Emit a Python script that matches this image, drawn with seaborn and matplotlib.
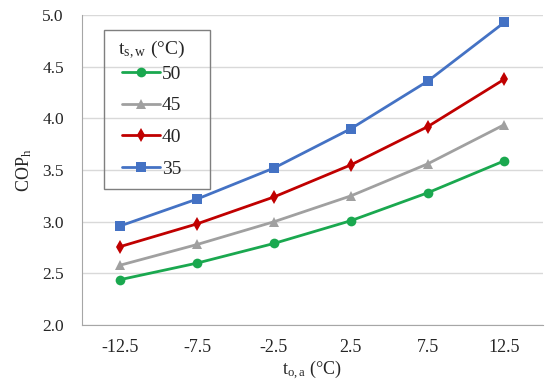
import numpy as np
import pandas as pd
import matplotlib
matplotlib.use("Agg")
import matplotlib.pyplot as plt
import seaborn as sns
from matplotlib.ticker import FixedLocator
from matplotlib.patches import Rectangle

# outdoor air temperature categories (°C)
temps = ["-12.5", "-7.5", "-2.5", "2.5", "7.5", "12.5"]

# COP_h for each supply water temperature
cop_50 = [2.44, 2.60, 2.79, 3.01, 3.28, 3.59]
cop_45 = [2.58, 2.78, 3.00, 3.25, 3.56, 3.94]
cop_40 = [2.76, 2.98, 3.24, 3.55, 3.92, 4.38]
cop_35 = [2.96, 3.22, 3.52, 3.90, 4.36, 4.93]

series = {"50": cop_50, "45": cop_45, "40": cop_40, "35": cop_35}
colors = {"50": "#1aa84f", "45": "#a0a0a0", "40": "#c00000", "35": "#4472c4"}
markers = {"50": "o", "45": "^", "40": "d", "35": "s"}

rows = []
for name, vals in series.items():
    for t, v in zip(temps, vals):
        rows.append({"t": t, "cop": v, "tsw": name})
df = pd.DataFrame(rows)

sns.set_style("white")
plt.rcParams["font.family"] = ["Liberation Serif", "DejaVu Serif"]
plt.rcParams["mathtext.fontset"] = "stix"

fig = plt.figure(figsize=(5.5, 3.87), dpi=100)
ax = fig.add_axes([0.149, 0.160, 0.838, 0.801])

sns.lineplot(data=df, x="t", y="cop", hue="tsw", style="tsw",
             hue_order=list(series), style_order=list(series),
             palette=colors, markers=markers, dashes=False,
             linewidth=2, markersize=7, markeredgewidth=0, ax=ax)

ax.set_xlim(-0.5, 5.5)
ax.set_ylim(2.0, 5.0)
ax.set_yticks(np.arange(2.0, 5.01, 0.5))
ax.set_yticklabels([f"{v:.1f}" for v in np.arange(2.0, 5.01, 0.5)])
ax.yaxis.grid(True, color="#d9d9d9", linewidth=1)
ax.set_axisbelow(True)

# ticks between categories, like a spreadsheet category axis
ax.xaxis.set_minor_locator(FixedLocator(np.arange(-0.5, 6, 1)))
ax.tick_params(axis="x", which="major", length=0, labelsize=13, pad=10)
ax.tick_params(axis="x", which="minor", length=5, color="#a6a6a6", width=1, direction="out")
ax.tick_params(axis="y", which="major", length=5, color="#a6a6a6", width=1,
               direction="out", labelsize=12.5, pad=8)

for s in ["left", "bottom"]:
    ax.spines[s].set_color("#a6a6a6")
for s in ["top", "right"]:
    ax.spines[s].set_visible(False)

ax.set_xlabel(r"t$_{\mathregular{o,a}}$ (°C)", fontsize=13, labelpad=2)
ax.set_ylabel(r"COP$_{\mathregular{h}}$", fontsize=13, labelpad=6)

leg = ax.legend(title=r"t$_{\mathregular{s,w}}$ (°C)", loc="upper left",
                bbox_to_anchor=(0.062, 0.948), fontsize=14, title_fontsize=14,
                frameon=False, handlelength=1.95, handletextpad=0.1,
                labelspacing=0.72, borderpad=0.4, borderaxespad=0)
leg._legend_box.align = "center"
leg._legend_box.sep = 3  # smaller gap between title and first entry

# box around the legend, wider at the sides than matplotlib's uniform pad
fig.canvas.draw()
bb = leg.get_window_extent()
inv = fig.transFigure.inverted()
x0, y0 = inv.transform((bb.x0 - 7, bb.y0 - 4))
x1, y1 = inv.transform((bb.x1 + 17, bb.y1 + 1))
fig.patches.append(Rectangle((x0, y0), x1 - x0, y1 - y0, transform=fig.transFigure,
                             facecolor="none", edgecolor="#7f7f7f", linewidth=1,
                             zorder=6, figure=fig))

fig.savefig("out.png", dpi=100)
